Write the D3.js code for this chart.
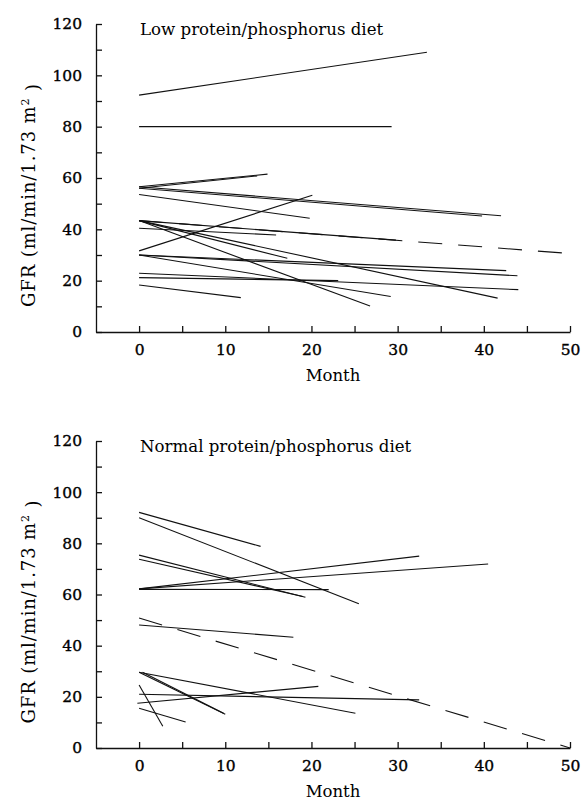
<!DOCTYPE html>
<html>
<head>
<meta charset="utf-8">
<script src="https://cdn.jsdelivr.net/npm/d3@7"></script>
<style>
  html, body { margin: 0; padding: 0; background: #fff; }
  svg { display: block; }
  text { font-family: "DejaVu Serif", "Liberation Serif", serif; fill: #000; }
</style>
</head>
<body>
<svg id="chart"></svg>
<script>
// each line: [month start, GFR start, month end, GFR end]
const lowSolid = [
  [0, 92.3, 33.4, 109],
  [0, 80, 29.3, 80],
  [0, 56.6, 14.9, 61.5],
  [0, 56.0, 13.7, 60.8],
  [0, 56.6, 42.0, 45.3],
  [0, 56.0, 39.8, 45.2],
  [0, 53.6, 19.8, 44.3],
  [0, 31.6, 20.1, 53.3],
  [0, 43.4, 29.8, 35.8],
  [0, 40.4, 15.9, 37.8],
  [0, 43.4, 17.2, 28.7],
  [0, 43.4, 26.8, 10.1],
  [0, 43.4, 41.6, 13.2],
  [0, 30.0, 42.6, 23.9],
  [0, 30.0, 43.9, 21.9],
  [0, 30.0, 29.2, 13.8],
  [0, 22.9, 44.0, 16.5],
  [0, 21.2, 23.1, 20.0],
  [0, 18.3, 11.8, 13.4]
];
const lowDashed = [
  [0, 43.4, 49.1, 30.8]
];
const normalSolid = [
  [0, 92.1, 14.1, 78.8],
  [0, 90.0, 25.5, 56.4],
  [0, 75.4, 19.3, 58.9],
  [0, 73.8, 19.0, 59.2],
  [0, 62.2, 32.5, 75.0],
  [0, 62.2, 40.5, 71.9],
  [0, 62.0, 22.0, 61.9],
  [0, 48.1, 17.9, 43.3],
  [0, 29.6, 10.0, 13.2],
  [0.4, 29.6, 9.8, 13.6],
  [0, 29.6, 25.1, 13.6],
  [0, 24.6, 2.75, 8.5],
  [0, 21.0, 32.5, 18.8],
  [-0.2, 17.5, 20.8, 24.1],
  [0, 15.5, 5.4, 10.2]
];
const normalDashed = [
  [0, 50.8, 50, 0]
];
const panelTitles = ['Low protein/phosphorus diet', 'Normal protein/phosphorus diet'];
const xTickValues = d3.range(0, 51, 5);
const yTickValues = d3.range(0, 121, 10);
const xLabel = 'Month';

const width = 584, height = 805;
const svg = d3.select('#chart').attr('width', width).attr('height', height).attr('viewBox', [0, 0, width, height]);

const x = d3.scaleLinear([-5, 50], [96, 570]);

function drawPanel(top, bottom, title, solid, dashed) {
  const y = d3.scaleLinear([0, 120], [bottom, top]);
  const g = svg.append('g');

  const xAxis = d3.axisBottom(x)
    .tickValues(xTickValues)
    .tickSizeInner(-6)
    .tickSizeOuter(0)
    .tickPadding(12)
    .tickFormat((d) => (d % 10 === 0 ? d : ''));
  g.append('g')
    .attr('transform', `translate(0,${bottom})`)
    .call(xAxis)
    .call((a) => a.attr('font-family', null).attr('font-size', null))
    .call((a) => a.selectAll('path, line').attr('stroke', '#111').attr('stroke-width', 1.3))
    .call((a) => a.selectAll('text').style('font-size', '15.5px').attr('stroke', '#000').attr('stroke-width', 0.35));

  const yAxis = d3.axisLeft(y)
    .tickValues(yTickValues)
    .tickSizeInner(-6)
    .tickSizeOuter(0)
    .tickPadding(14)
    .tickFormat((d) => (d % 20 === 0 ? d : ''));
  g.append('g')
    .attr('transform', `translate(${x(-5)},0)`)
    .call(yAxis)
    .call((a) => a.attr('font-family', null).attr('font-size', null))
    .call((a) => a.selectAll('path, line').attr('stroke', '#111').attr('stroke-width', 1.3))
    .call((a) => a.selectAll('text').style('font-size', '15.5px').attr('stroke', '#000').attr('stroke-width', 0.35));

  // lines
  const seg = (d) => `M${x(d[0])},${y(d[1])}L${x(d[2])},${y(d[3])}`;
  g.append('g')
    .selectAll('path')
    .data(solid)
    .join('path')
    .attr('d', seg)
    .attr('fill', 'none')
    .attr('stroke', '#111')
    .attr('stroke-width', 1.1);
  g.append('g')
    .selectAll('path')
    .data(dashed)
    .join('path')
    .attr('d', seg)
    .attr('fill', 'none')
    .attr('stroke', '#111')
    .attr('stroke-width', 1.1)
    .attr('stroke-dasharray', '24,16');

  // title
  g.append('text')
    .attr('x', x(0) + 1)
    .attr('y', top + 11)
    .style('font-size', '16.6px')
    .text(title);

  // axis titles
  g.append('text')
    .attr('x', (x(-5) + x(50)) / 2)
    .attr('y', bottom + 49)
    .attr('text-anchor', 'middle')
    .style('font-size', '16.5px')
    .text(xLabel);

  const yl = g.append('text')
    .attr('transform', `translate(35,${(top + bottom) / 2 + 17}) rotate(-90)`)
    .attr('text-anchor', 'middle')
    .style('font-size', '18px')
    .style('letter-spacing', '0.9px');
  yl.append('tspan').text('GFR (ml/min/1.73 m');
  yl.append('tspan').attr('dy', '-0.55em').style('font-size', '11px').text('2');
  yl.append('tspan').attr('dy', '0.55em').text(' )');
}

drawPanel(24, 332, panelTitles[0], lowSolid, lowDashed);
drawPanel(441, 748, panelTitles[1], normalSolid, normalDashed);
</script>
</body>
</html>
